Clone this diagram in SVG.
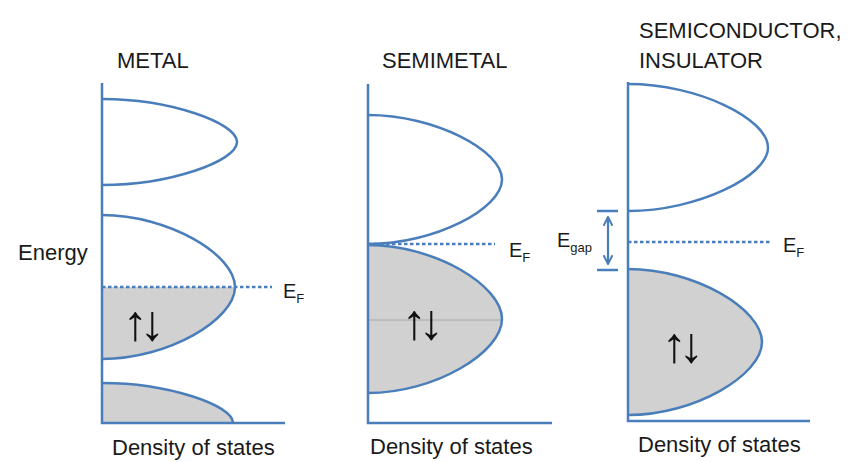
<svg xmlns="http://www.w3.org/2000/svg" width="856" height="462" viewBox="0 0 856 462">
<style>
.ax{stroke:#4a7ebb;stroke-width:2.5;fill:none}
.band{stroke:#4a7ebb;stroke-width:2.5;fill:none}
.fill{fill:#d1d1d1;stroke:none}
.ef{stroke:#4a7ebb;stroke-width:2.5;stroke-dasharray:3.5 2.5;fill:none}
.t{font-family:"Liberation Sans",Arial,sans-serif;font-size:22px;fill:#1a1a1a}
.e{font-family:"Liberation Sans",Arial,sans-serif;font-size:20px;fill:#1a1a1a}
.sub{font-size:13px}
.arr{font-family:"Liberation Sans",Arial,sans-serif;font-size:50px;letter-spacing:-8px;fill:#111}
</style>
<defs>
<marker id="chev" viewBox="0 0 10 10" refX="9" refY="5" markerWidth="11" markerHeight="11" orient="auto-start-reverse" markerUnits="userSpaceOnUse">
<path d="M1,1 L9,5 L1,9" fill="none" stroke="#4a7ebb" stroke-width="1.8"/>
</marker>
</defs>
<rect width="856" height="462" fill="#ffffff"/>

<text class="t" x="18" y="260">Energy</text>

<g id="metal">
<text class="t" x="117" y="68">METAL</text>
<path class="fill" d="M102,287 L235,287 C235,319.4 168.5,359 102,359 Z"/>
<path class="fill" d="M102,383 C167.5,383 233,405 233,423 L102,423 Z"/>
<path class="band" d="M102,99 C169.5,99 237,122.65 237,142 C237,161.35 169.5,185 102,185"/>
<path class="band" d="M102,215 C168.5,215 235,254.6 235,287 C235,319.4 168.5,359 102,359"/>
<path class="band" d="M102,383 C167.5,383 233,405 233,423"/>
<path class="ax" d="M102,83 L102,423 L285,423"/>
<text class="arr" x="123" y="340">↑↓</text>
<text class="t" x="112" y="455">Density of states</text>
</g>

<g id="semimetal">
<text class="t" x="382" y="68">SEMIMETAL</text>
<path class="fill" d="M368,245 C435,245 502,285.7 502,319 C502,352.3 435,393 368,393 Z"/>
<line x1="368" y1="320" x2="502" y2="320" stroke="#a8a8a8" stroke-width="1"/>
<path class="band" d="M368,115 C435,115 502,150.5 502,179.5 C502,208.5 435,244 368,244"/>
<path class="band" d="M368,245 C435,245 502,285.7 502,319 C502,352.3 435,393 368,393"/>
<path class="ax" d="M368,84 L368,423 L552,423"/>
<text class="arr" x="402" y="339">↑↓</text>
<text class="t" x="370" y="454">Density of states</text>
</g>

<g id="semiconductor">
<text class="t" x="639" y="38">SEMICONDUCTOR,</text>
<text class="t" x="639" y="68">INSULATOR</text>
<path class="fill" d="M628,269 C695,269 762,309.2 762,342 C762,374.8 695,415 628,415 Z"/>
<path class="band" d="M628,84 C698,84 768,118.9 768,147.5 C768,176.1 698,211 628,211"/>
<path class="band" d="M628,269 C695,269 762,309.2 762,342 C762,374.8 695,415 628,415"/>
<path class="ax" d="M628,82 L628,421 L810,421"/>
<text class="arr" x="662" y="362">↑↓</text>
<text class="t" x="638" y="452">Density of states</text>
</g>

<g id="connectors">
<line class="ef" x1="102" y1="287" x2="272" y2="287"/>
<line class="ef" x1="368" y1="244" x2="495" y2="244"/>
<line class="ef" x1="628" y1="242" x2="772" y2="242"/>
<line x1="597" y1="211" x2="618" y2="211" stroke="#4a7ebb" stroke-width="2.5"/>
<line x1="597" y1="270" x2="618" y2="270" stroke="#4a7ebb" stroke-width="2.5"/>
<line x1="608" y1="217" x2="608" y2="264" stroke="#4a7ebb" stroke-width="2.2" marker-start="url(#chev)" marker-end="url(#chev)"/>
</g>

<g id="labels">
<text class="e" x="283" y="298">E<tspan class="sub" dy="5">F</tspan></text>
<text class="e" x="509" y="257">E<tspan class="sub" dy="5">F</tspan></text>
<text class="e" x="783" y="252">E<tspan class="sub" dy="5">F</tspan></text>
<text class="e" x="557" y="247">E<tspan class="sub" dy="5">gap</tspan></text>
</g>
</svg>
